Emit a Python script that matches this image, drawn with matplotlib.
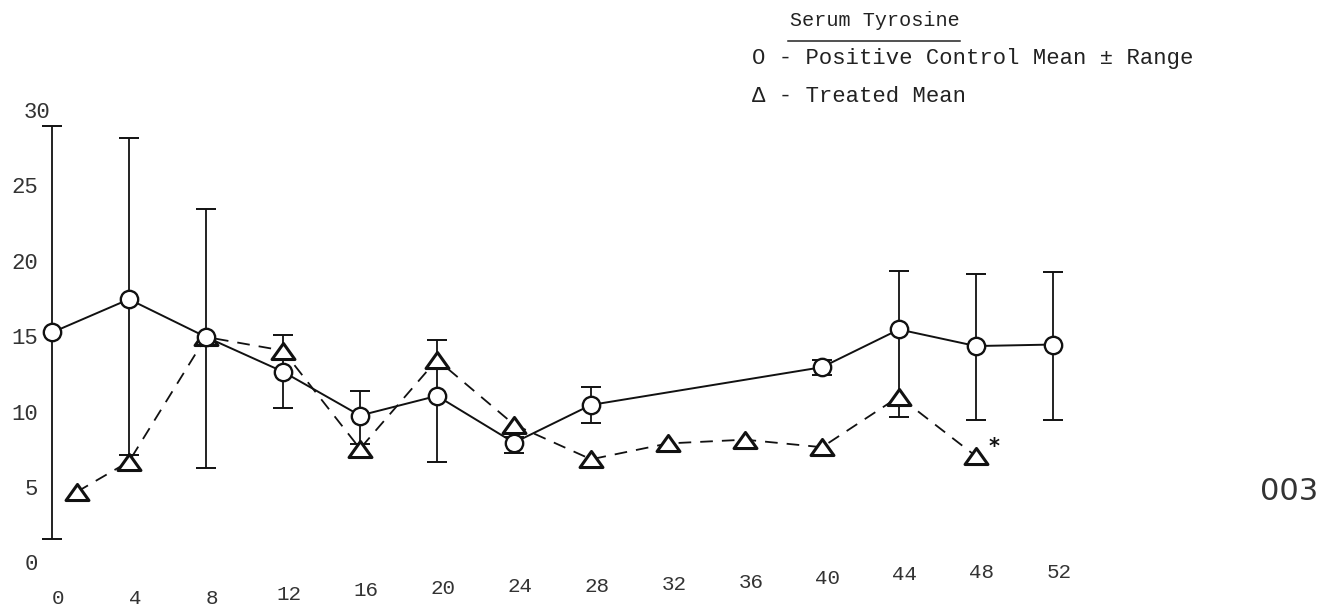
import matplotlib
matplotlib.use("Agg")
import matplotlib.pyplot as plt
from matplotlib.path import Path

# ---- data ----
ctrl_weeks = [0, 4, 8, 12, 16, 20, 24, 28, 40, 44, 48, 52]
ctrl_mean = [15.4, 17.6, 15.1, 12.8, 9.9, 11.2, 8.1, 10.6, 13.1, 15.6, 14.5, 14.6]
ctrl_low = [1.7, 7.3, 6.4, 10.4, 8.0, 6.8, 7.4, 9.4, 12.6, 9.8, 9.6, 9.6]
ctrl_high = [29.1, 28.3, 23.6, 15.2, 11.5, 14.9, 8.5, 11.8, 13.6, 19.5, 19.3, 19.4]

trt_weeks = [1.3, 4, 8, 12, 16, 20, 24, 28, 32, 36, 40, 44, 48]
trt_mean = [4.85, 6.85, 15.1, 14.2, 7.7, 13.6, 9.3, 7.0, 8.05, 8.3, 7.8, 11.15, 7.2]

x_ticks = [0, 4, 8, 12, 16, 20, 24, 28, 32, 36, 40, 44, 48, 52]
x_tick_labels = ["0", "4", "8", "12", "16", "20", "24", "28", "32", "36", "40", "44", "48", "52"]
y_ticks = [30, 25, 20, 15, 10, 5, 0]
y_tick_labels = ["30", "25", "20", "15", "10", "5", "0"]

title = "Serum Tyrosine"
legend_ctrl = "O - Positive Control Mean \u00b1 Range"
legend_trt = "\u0394 - Treated Mean"
stamp = "003"

# ---- layout (pixel mapping of the scanned page) ----
W, H = 1321, 605
X0, XS = 52.0, 19.25     # pixel x of week 0, pixels per week
Y0, YS = 565.0, 15.1     # pixel y of value 0, pixels per unit

fig = plt.figure(figsize=(W / 100, H / 100), dpi=100)
ax = fig.add_axes([0, 0, 1, 1])
ax.set_xlim(-X0 / XS, (W - X0) / XS)
ax.set_ylim((Y0 - H) / YS, Y0 / YS)
ax.axis("off")

def px(xp):
    return (xp - X0) / XS

def py(yp):
    return (Y0 - yp) / YS

mono = ["Liberation Mono", "DejaVu Sans Mono"]
ink = "#111111"

# error bars (range) for positive control
err_lo = [m - l for m, l in zip(ctrl_mean, ctrl_low)]
err_hi = [h - m for m, h in zip(ctrl_mean, ctrl_high)]
ax.errorbar(ctrl_weeks, ctrl_mean, yerr=[err_lo, err_hi], fmt="none",
            ecolor=ink, elinewidth=1.3, capsize=7, capthick=1.4, zorder=2)

# treated mean: dashed line + triangles
tri = Path([(-1, -0.7), (1, -0.7), (0, 0.7), (-1, -0.7)],
           [Path.MOVETO, Path.LINETO, Path.LINETO, Path.CLOSEPOLY])
ax.plot(trt_weeks, trt_mean, linestyle=(0, (7, 5)), color=ink, linewidth=1.3,
        marker=tri, markersize=16.5, markerfacecolor="white",
        markeredgecolor=ink, markeredgewidth=2.2, zorder=3)

# positive control: solid line + circles
ax.plot(ctrl_weeks, ctrl_mean, linestyle="-", color=ink, linewidth=1.4,
        marker="o", markersize=12.5, markerfacecolor="white",
        markeredgecolor=ink, markeredgewidth=1.7, zorder=4)

# asterisk next to the last treated point
ax.text(trt_weeks[-1] + 0.95, trt_mean[-1] + 0.6, "*", fontsize=15,
        fontweight="bold", family=["DejaVu Sans"], color=ink,
        ha="center", va="center")

# y tick labels
for v, lab in zip(y_ticks, y_tick_labels):
    xr = px(50) if lab == "30" else px(38)
    ax.text(xr, v, lab, family=mono, fontsize=16, color="#333333",
            ha="right", va="center")

# x tick labels (wavy baseline of the scan)
x_label_ypix = [598, 598, 598, 595, 590, 588, 587, 587, 585, 583, 578, 575, 573, 572]
for w, lab, yp in zip(x_ticks, x_tick_labels, x_label_ypix):
    ax.text(w + 0.3, py(yp), lab, family=mono, fontsize=15, color="#333333",
            ha="center", va="center")

# legend block
ax.text(px(790), py(20), title, family=mono, fontsize=14.5, color="#222222",
        ha="left", va="center")
ax.plot([px(788), px(960)], [py(41), py(41)], color="#222222", linewidth=1.1)
ax.text(px(752), py(58), legend_ctrl, family=mono, fontsize=16, color="#222222",
        ha="left", va="center")
ax.text(px(752), py(96), legend_trt, family=mono, fontsize=16, color="#222222",
        ha="left", va="center")

# page stamp at right edge
ax.text(px(1318), py(492), stamp, family=["DejaVu Sans"], fontsize=22,
        color="#333333", ha="right", va="center")

fig.savefig("out.png", dpi=100, facecolor="white")
